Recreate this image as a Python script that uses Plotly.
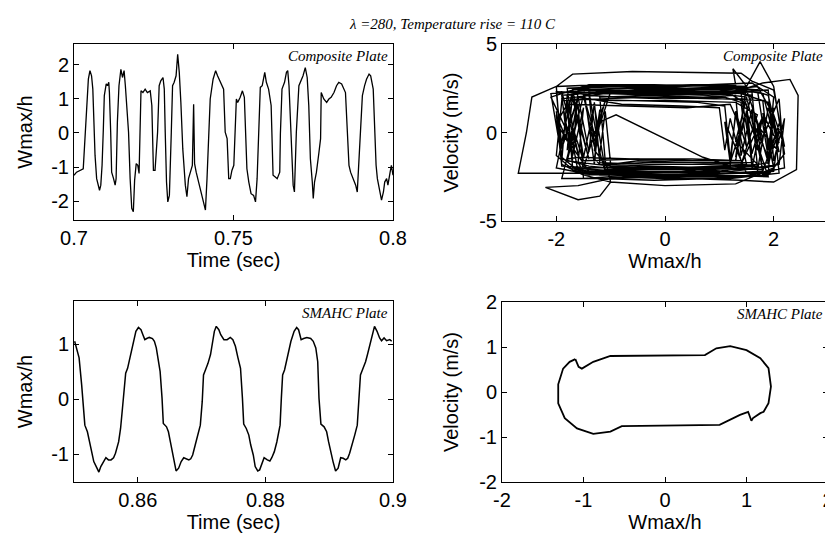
import plotly.graph_objects as go
from plotly.subplots import make_subplots

# ---- Composite plate: time history (0.7 - 0.8 s) ----
comp_t = [0.7000, 0.7008, 0.7029, 0.7035, 0.7040, 0.7045, 0.7050, 0.7055, 0.7059, 0.7063,
          0.7066, 0.7071, 0.7080, 0.7084, 0.7088, 0.7092, 0.7095, 0.7101, 0.7105, 0.7109,
          0.7111, 0.7115, 0.7118, 0.7124, 0.7129, 0.7132, 0.7136, 0.7141, 0.7147, 0.7152,
          0.7157, 0.7161, 0.7165, 0.7171, 0.7176, 0.7181, 0.7186, 0.7190, 0.7195, 0.7200,
          0.7204, 0.7207, 0.7210, 0.7216, 0.7223, 0.7230, 0.7239, 0.7244, 0.7247, 0.7249,
          0.7254, 0.7262, 0.7267, 0.7272, 0.7279, 0.7283, 0.7286, 0.7290, 0.7294, 0.7299,
          0.7305, 0.7309, 0.7314, 0.7320, 0.7325, 0.7330, 0.7335, 0.7341, 0.7349, 0.7354,
          0.7359, 0.7366, 0.7371, 0.7375, 0.7378, 0.7383, 0.7391, 0.7398, 0.7406, 0.7412,
          0.7417, 0.7422, 0.7427, 0.7436, 0.7444, 0.7450, 0.7459, 0.7469, 0.7474, 0.7480,
          0.7485, 0.7490, 0.7495, 0.7501, 0.7509, 0.7513, 0.7521, 0.7528, 0.7534, 0.7537,
          0.7542, 0.7548, 0.7555, 0.7563, 0.7569, 0.7574, 0.7579, 0.7584, 0.7590, 0.7595,
          0.7598, 0.7603, 0.7610, 0.7618, 0.7621, 0.7624, 0.7631, 0.7637, 0.7645, 0.7647,
          0.7652, 0.7660, 0.7666, 0.7670, 0.7674, 0.7679, 0.7683, 0.7687, 0.7691, 0.7697,
          0.7705, 0.7710, 0.7718, 0.7725, 0.7731, 0.7736, 0.7741, 0.7747, 0.7750, 0.7754,
          0.7760, 0.7768, 0.7773, 0.7775, 0.7783, 0.7792, 0.7799, 0.7806, 0.7815, 0.7823,
          0.7830, 0.7839, 0.7846, 0.7851, 0.7857, 0.7862, 0.7867, 0.7875, 0.7883, 0.7888,
          0.7893, 0.7898, 0.7904, 0.7911, 0.7917, 0.7925, 0.7930, 0.7938, 0.7942, 0.7947,
          0.7951, 0.7959, 0.7964, 0.7970, 0.7974, 0.7980, 0.7984, 0.7991, 0.7995, 0.8000]
comp_w = [-1.24, -1.15, -1.05, 0.02, 0.99, 1.57, 1.82, 1.67, 1.28, 0.21,
          -0.66, -1.34, -1.68, -1.53, -0.95, 0.12, 1.09, 1.43, 1.38, 1.48,
          1.18, 0.02, -1.15, -1.34, -1.53, -1.34, 0.31, 1.38, 1.86, 1.62,
          1.82, 1.38, 0.80, 0.02, -1.34, -2.21, -2.31, -1.39, -0.90, -0.95,
          -1.19, 0.02, 1.23, 1.18, 1.28, 1.18, 1.23, 0.80, 0.02, -1.10,
          -1.10, 0.02, 1.38, 1.52, 1.62, 1.28, 0.02, -1.44, -2.02, -1.83,
          0.02, 1.38, 1.48, 1.67, 2.30, 1.77, 0.89, -0.47, -1.53, -1.87,
          -1.34, -1.15, -0.95, 0.84, -0.90, -1.15, -1.44, -1.68, -2.02, -2.26,
          -1.34, 0.02, 0.99, 1.57, 1.82, 1.67, 1.48, 1.28, 0.02, -0.17,
          -1.34, -1.34, -1.10, -0.95, 0.99, 0.89, 1.04, 1.23, 1.04, 0.02,
          -1.05, -1.44, -1.78, -1.83, -2.02, -1.34, 0.02, 1.33, 1.38, 1.67,
          1.77, 1.48, 1.28, 0.80, -0.08, -1.24, -1.29, -1.34, -1.15, -0.03,
          1.28, 1.48, 1.77, 1.82, 1.38, 0.02, -1.05, -1.53, -1.73, 0.02,
          1.38, 1.48, 1.67, 1.91, 1.62, 0.80, -0.76, -1.44, -1.92, -1.44,
          -1.15, -0.56, -0.17, 1.18, 0.99, 0.89, 0.99, 1.04, 1.18, 1.38,
          1.48, 1.43, 1.28, 1.18, 0.02, -0.95, -1.15, -1.34, -1.53, -1.73,
          -0.95, 0.02, 1.09, 1.38, 1.57, 1.72, 1.67, 1.28, 0.02, -0.95,
          -1.34, -1.73, -1.97, -1.73, -1.44, -1.34, -1.53, -1.15, -0.95, -1.24]

# ---- SMAHC plate: time history (0.85 - 0.9 s) ----
smahc_t = [0.8501, 0.8504, 0.8508, 0.8512, 0.8515, 0.8517, 0.8521, 0.8524, 0.8528, 0.8531,
           0.8536, 0.8539, 0.8542, 0.8546, 0.8550, 0.8554, 0.8558, 0.8562, 0.8565, 0.8570,
           0.8573, 0.8576, 0.8579, 0.8581, 0.8584, 0.8588, 0.8591, 0.8594, 0.8597, 0.8601,
           0.8605, 0.8608, 0.8611, 0.8614, 0.8618, 0.8623, 0.8626, 0.8629, 0.8632, 0.8635,
           0.8638, 0.8640, 0.8645, 0.8648, 0.8651, 0.8654, 0.8657, 0.8660, 0.8664, 0.8668,
           0.8672, 0.8676, 0.8680, 0.8683, 0.8686, 0.8690, 0.8694, 0.8698, 0.8701, 0.8703,
           0.8706, 0.8710, 0.8714, 0.8717, 0.8720, 0.8723, 0.8727, 0.8730, 0.8735, 0.8740,
           0.8745, 0.8749, 0.8753, 0.8757, 0.8761, 0.8764, 0.8766, 0.8770, 0.8774, 0.8777,
           0.8781, 0.8784, 0.8788, 0.8791, 0.8795, 0.8798, 0.8803, 0.8807, 0.8810, 0.8814,
           0.8818, 0.8823, 0.8825, 0.8827, 0.8830, 0.8834, 0.8837, 0.8840, 0.8845, 0.8849,
           0.8852, 0.8856, 0.8860, 0.8865, 0.8871, 0.8875, 0.8879, 0.8882, 0.8884, 0.8887,
           0.8892, 0.8896, 0.8899, 0.8902, 0.8906, 0.8910, 0.8914, 0.8918, 0.8922, 0.8926,
           0.8929, 0.8932, 0.8936, 0.8940, 0.8944, 0.8947, 0.8949, 0.8952, 0.8957, 0.8960,
           0.8964, 0.8968, 0.8971, 0.8975, 0.8979, 0.8982, 0.8986, 0.8990, 0.8995, 0.8998]
smahc_w = [1.05, 0.93, 0.75, 0.26, -0.16, -0.47, -0.59, -0.77, -0.95, -1.13,
           -1.25, -1.32, -1.22, -1.13, -1.06, -1.10, -1.10, -1.06, -0.98, -0.77,
           -0.53, -0.16, 0.26, 0.47, 0.56, 0.75, 0.93, 1.08, 1.23, 1.30,
           1.26, 1.17, 1.08, 1.10, 1.12, 1.10, 1.05, 0.93, 0.75, 0.50,
           0.02, -0.44, -0.50, -0.59, -0.77, -0.95, -1.13, -1.30, -1.25, -1.13,
           -1.06, -1.08, -1.10, -1.08, -1.01, -0.83, -0.65, -0.47, -0.04, 0.44,
           0.53, 0.65, 0.81, 0.99, 1.23, 1.32, 1.26, 1.17, 1.08, 1.08,
           1.12, 1.08, 0.96, 0.75, 0.56, 0.02, -0.45, -0.53, -0.65, -0.83,
           -1.01, -1.22, -1.30, -1.28, -1.13, -1.06, -1.10, -1.12, -1.06, -0.95,
           -0.77, -0.47, 0.02, 0.44, 0.53, 0.72, 0.87, 1.05, 1.23, 1.30,
           1.26, 1.08, 1.10, 1.12, 1.10, 1.05, 0.93, 0.68, 0.02, -0.45,
           -0.50, -0.59, -0.77, -0.95, -1.13, -1.30, -1.25, -1.06, -1.07, -1.10,
           -1.07, -0.98, -0.83, -0.65, -0.47, 0.02, 0.44, 0.53, 0.68, 0.81,
           0.99, 1.17, 1.32, 1.23, 1.11, 1.06, 1.11, 1.06, 1.08, 1.05]

# ---- Composite plate: phase portrait (Wmax/h vs velocity), one loop per line ----
comp_phase_w = [
    -1.9, -1.8, -1.0, 0.2, 1.2, 1.5, 1.6, 1.8, 2.0, 1.2, 0.0, -1.1, -1.3, -1.5,
    -1.7, -0.8, 0.4, 1.4, 1.9, 2.1, 1.9, 1.7, 0.6, -0.6, -1.5, -1.9,
    -2.0, -1.9, -1.6, -0.6, 0.6, 1.1, 1.2, 1.3, 1.5, 0.5, -0.5, -1.0, -1.1,
    -1.2, -1.4, -0.4, 0.8, 1.6, 1.7, 2.1, 2.2, 1.4, 0.2, -0.9, -1.6,
    -1.7, -2.1, -1.4, -0.2, 1.0, 1.7, 1.9, 1.6, 1.8, 1.0, -0.2, -1.2,
    -1.3, -1.2, -0.9, 0.7, 1.2, 0.3, -0.8, -1.7,
    -1.8, -1.6, -1.9, -1.0, 0.0, 1.1, 1.4, 1.5, 1.3, 1.2, 0.4, -0.7, -1.4,
    -1.9, -2.0, -1.7, -0.6, 0.4, 1.4, 1.6, 2.0, 2.2, 2.0, 2.1, 1.2, 0.0, -1.0,
    -1.5, -1.6, -1.8, -1.7, -0.7, 0.5, 1.5, 1.8, 1.6, 1.9, 1.0, -0.2, -1.2,
    -1.8, -2.7, -2.55, -2.45, -2.0, -1.2, 0.0, 1.0, 1.6, 2.0, 1.9, 2.1, 1.8, 1.0, -0.1, -1.0, -1.6, -2.2, -1.6, -1.2, -1.0,
    -1.1, -1.2, -0.3, 0.7, 1.3, 1.4, 1.6, 1.7, 0.8, -0.3, -1.3,
    -1.9, -2.0, -1.8, -1.9, -1.2, -0.2, 0.8, 1.5, 1.8, 2.3, 2.45, 2.42, 2.0, 1.4, 0.4, -0.6, -1.5,
    -1.6, -1.5, -1.7, -1.6, -0.8, 0.2, 1.2, 1.8, 2.0, 1.8, 2.0, 1.3, 0.0, -1.0, -1.5,
    -1.9, -2.1, -1.3, -0.3, 0.7, 1.4, 1.6, 1.5, 1.6, 0.7, -0.3, -1.2,
    -1.3, -1.4, -1.6, -0.8, 0.3, 1.0, 1.1, 1.2, 1.4, 0.5, -0.5, -1.5,
    -1.7, -1.8, -1.0, 0.0, 1.1, 1.7, 2.0, 1.9, 2.1, 2.0, 1.3, 0.1, -0.9, -1.7,
    -2.0, -1.9, -1.2, -0.2, 0.9, 1.5, 1.3, 1.7, 1.0, 0.0, -1.0, -1.8,
    -1.5, -1.3, -1.4, -0.5, 0.6, 1.3, 1.9, 2.1, 1.7, 1.8, 0.9, -0.2, -1.2, -1.7,
    -1.8, -1.7, -1.9, -1.1, -0.1, 1.0, 1.5, 1.7, 1.5, 1.6, 0.7, -0.4, -1.1, -1.3,
    -1.2, -1.3, -1.5, -0.6, 0.5, 1.5, 1.3, 1.5, 1.9, 1.0, -0.1, -1.0,
    -1.4, -2.0, -1.8, -0.7, 0.4, 1.2, 1.4, 1.3, 0.5, -0.6, -1.6,
    -1.8, -1.6, -1.9, -2.0, -1.0, 0.1, 1.2, 1.9, 2.0, 2.2, 2.1, 1.4, 0.3, -0.8,
    -1.5, -1.1, -1.3, -1.0, 0.0, 1.0, 1.6, 1.2, 1.1, 1.5, 0.6, -0.5, -1.5,
    -2.0, -1.7, -0.9, 0.2, 1.3, 1.25, 1.5, 1.75, 2.0, 2.2, 1.9, 0.9, -0.2, -1.2, -1.9,
    -1.6, -1.4, -1.7, -0.9, 0.2, 1.3, 1.7, 1.4, 1.8, 1.6, 0.8, -0.3, -1.3,
    -1.1, -1.5, -0.8, 0.3, 1.1, 1.8, 1.9, 2.0, 1.9, 1.1, -0.1, -1.0, -1.7]
comp_phase_v = [
    -1.6, 2.1, 2.4, 2.3, 2.2, 1.6, -1.2, 0.9, -1.9, -2.2, -2.0, -2.1, 1.5, -1.4,
    2.5, 2.6, 2.5, 2.6, 2.1, -0.6, 1.4, -2.2, -2.4, -2.3, -2.4, -1.8,
    1.2, -0.9, 1.9, 1.8, 1.7, 1.5, -1.5, 1.0, -1.8, -1.7, -1.6, -1.8, 1.2,
    -1.2, 2.3, 2.2, 2.1, 2.3, -1.0, 1.9, -2.0, -2.5, -2.5, -2.4, -2.2,
    -0.6, 2.0, 2.7, 2.7, 2.6, 2.4, -1.4, 0.7, -2.1, -2.0, -1.9, -1.8,
    -1.5, 0.6, 1.0, -1.4, -1.9, -2.2, -2.2, -2.0,
    1.8, -1.2, 2.3, 2.0, 1.9, 2.0, 1.7, -0.8, 1.2, -1.9, -2.0, -2.1, -1.9,
    -1.5, 2.6, 3.3, 3.45, 3.4, 3.35, 2.9, 2.4, -0.8, 1.0, -2.3, -2.6, -2.6, -2.5,
    -2.6, 1.6, -1.0, 2.2, 2.3, 2.2, 2.4, -0.3, 1.5, -1.7, -2.2, -2.2, -2.3,
    -2.3, -2.3, 0.0, 2.0, 2.6, 2.7, 2.6, 2.7, 2.8, 2.0, -1.5, 0.5, -2.2, -2.3, -2.4, -2.6, -3.0, -3.1, -3.8, -3.6, -2.8,
    -1.6, 2.0, 2.1, 2.0, 2.1, -1.3, 1.3, -1.9, -2.0, -1.9, -2.0,
    -1.9, 1.0, -0.5, 2.1, 2.3, 2.3, 2.4, 2.5, 2.8, 3.0, 2.1, -2.1, -2.8, -2.7, -2.6, -2.5, -2.2,
    -1.7, 1.4, -1.3, 2.4, 2.5, 2.4, 2.5, 2.2, -0.2, 1.1, -2.0, -2.9, -3.0, -2.8, -2.4,
    -1.4, 2.2, 2.4, 2.3, 2.3, 2.2, -1.5, 1.0, -1.9, -1.8, -1.8, -1.7,
    1.7, -1.1, 2.0, 1.6, 1.5, 1.4, -1.0, 0.8, -1.6, -1.5, -1.5, -1.6,
    0.3, 2.5, 2.6, 2.5, 2.4, 2.6, 1.0, -1.8, 0.2, -2.2, -2.3, -2.2, -2.3, -2.1,
    -1.3, 1.8, 1.9, 2.0, 1.9, 1.9, -0.5, -1.8, -1.9, -2.0, -1.9, -1.6,
    2.1, -0.8, 2.2, 2.4, 2.3, 2.3, 1.7, -1.1, 0.4, -2.4, -2.5, -2.4, -2.4, -2.0,
    1.5, -1.6, 1.9, 2.2, 2.1, 2.2, 2.0, -0.5, 1.1, -1.7, -1.7, -1.7, -1.8, -1.0,
    1.3, -1.8, 2.6, 2.6, 2.7, 2.6, -1.4, 1.2, -2.5, -2.4, -2.5, -2.4,
    -2.2, 0.5, 1.6, 1.5, 1.4, 1.6, 0.2, -1.6, -1.6, -1.5, -1.4,
    -1.5, 2.0, -0.8, 2.3, 2.2, 2.2, 2.3, 2.4, -1.6, 0.8, -1.8, -2.1, -2.0, -2.0,
    -2.0, 1.8, -0.5, 2.3, 2.4, 2.4, 2.1, -1.7, 0.6, -2.3, -2.3, -2.2, -2.3,
    -2.0, 2.4, 2.7, 2.6, 2.7, 3.6, 2.6, 4.0, 2.6, -1.2, -2.4, -2.6, -2.7, -2.6, -2.6,
    1.0, -1.5, 1.9, 1.8, 1.8, 1.7, 1.0, -1.8, 0.9, -2.0, -2.1, -2.1, -2.2,
    -2.2, 2.1, 2.0, 2.0, 1.9, 1.8, -1.0, 1.4, -2.3, -2.3, -2.2, -2.2, -2.0]

# ---- SMAHC plate: phase portrait ----
smahc_phase_w = [-1.10, -1.06, -1.02, -0.88, -0.67, 0.49, 0.63, 0.80, 1.00, 1.17, 1.27, 1.30,
                 1.27, 1.21, 1.17, 1.08, 1.06, 1.02, 0.92, 0.67, -0.53, -0.67, -0.88, -1.08,
                 -1.23, -1.31, -1.31, -1.25, -1.17, -1.10]
smahc_phase_v = [0.73, 0.56, 0.52, 0.67, 0.80, 0.82, 0.97, 1.02, 0.93, 0.75, 0.53, 0.12,
                 -0.25, -0.44, -0.47, -0.58, -0.64, -0.44, -0.51, -0.73, -0.76, -0.88, -0.93, -0.81,
                 -0.58, -0.25, 0.17, 0.52, 0.67, 0.73]

# the page body has an 8px margin: the figure starts at (8, 8) in the window.
# Keep it a bit wider than the visible area so the last tick label is not dropped.
W, H = 833, 526


def px_x(p):
    return (p - 8) / W


def px_y(p):
    return 1 - (p - 8) / H


fig = make_subplots(rows=2, cols=2)

fig.add_trace(go.Scatter(x=comp_t, y=comp_w, mode='lines',
                         line=dict(color='black', width=1.3)), row=1, col=1)
fig.add_trace(go.Scatter(x=comp_phase_w, y=comp_phase_v, mode='lines',
                         line=dict(color='black', width=1.4)), row=1, col=2)
fig.add_trace(go.Scatter(x=smahc_t, y=smahc_w, mode='lines',
                         line=dict(color='black', width=1.5)), row=2, col=1)
fig.add_trace(go.Scatter(x=smahc_phase_w, y=smahc_phase_v, mode='lines',
                         line=dict(color='black', width=1.8)), row=2, col=2)

tick_font = dict(family='Liberation Sans, Arial', size=20, color='black')
ax_common = dict(showline=True, linecolor='black', linewidth=1, mirror='ticks', ticks='inside',
                 ticklen=5, tickcolor='black', showgrid=False, zeroline=False, tickfont=tick_font,
                 title_font=tick_font, automargin=False)

fig.update_xaxes(ax_common)
fig.update_yaxes(ax_common)

left_dom = [px_x(74), px_x(393)]
right_dom = [px_x(502), px_x(828)]

# top-left: composite time history
fig.update_xaxes(domain=left_dom, range=[0.7, 0.8], tickvals=[0.7, 0.75, 0.8],
                 ticktext=['0.7', '0.75', '0.8'], title_text='Time (sec)', title_standoff=2, row=1, col=1)
fig.update_yaxes(domain=[px_y(220), px_y(44)], range=[-2.55, 2.6], tickvals=[-2, -1, 0, 1, 2],
                 ticktext=['-2', '-1', '0', '1', '2'],
                 title_text='Wmax/h', title_standoff=13, row=1, col=1)
# top-right: composite phase plane
fig.update_xaxes(domain=right_dom, range=[-3, 3], tickvals=[-2, 0, 2],
                 ticktext=['-2', '0', '2'], title_text='Wmax/h', title_standoff=2, row=1, col=2)
fig.update_yaxes(domain=[px_y(221), px_y(44)], range=[-5, 5], tickvals=[-5, 0, 5],
                 ticktext=['-5', '0', '5'], title_text='Velocity (m/s)', title_standoff=15, row=1, col=2)
# bottom-left: SMAHC time history
fig.update_xaxes(domain=left_dom, range=[0.85, 0.9], tickvals=[0.86, 0.88, 0.9],
                 ticktext=['0.86', '0.88', '0.9'], title_text='Time (sec)', title_standoff=2, row=2, col=1)
fig.update_yaxes(domain=[px_y(482), px_y(301)], range=[-1.5, 1.78], tickvals=[-1, 0, 1],
                 ticktext=['-1', '0', '1'], title_text='Wmax/h', title_standoff=13, row=2, col=1)
# bottom-right: SMAHC phase plane
fig.update_xaxes(domain=right_dom, range=[-2, 2], tickvals=[-2, -1, 0, 1, 2],
                 ticktext=['-2', '-1', '0', '1', '2'], title_text='Wmax/h', title_standoff=2, row=2, col=2)
fig.update_yaxes(domain=[px_y(482), px_y(302)], range=[-2, 2], tickvals=[-2, -1, 0, 1, 2],
                 ticktext=['-2', '-1', '0', '1', '2'], title_text='Velocity (m/s)', title_standoff=15,
                 row=2, col=2)

label_font = dict(family='Liberation Serif, Times New Roman', size=15, color='black')
notes = [('x domain', 'y domain', 'Composite Plate'),
         ('x2 domain', 'y2 domain', 'Composite Plate'),
         ('x3 domain', 'y3 domain', 'SMAHC Plate'),
         ('x4 domain', 'y4 domain', 'SMAHC Plate')]
for xr, yr, txt in notes:
    fig.add_annotation(x=0.99, y=0.99, xref=xr, yref=yr, xanchor='right', yanchor='top',
                       text='<i>' + txt + '</i>', showarrow=False, font=label_font)

fig.add_annotation(x=px_x(452), y=px_y(14), xref='paper', yref='paper', showarrow=False,
                   text='<i>λ =280, Temperature rise = 110 C</i>',
                   font=dict(family='Liberation Serif, Times New Roman', size=15, color='black'))

fig.update_layout(width=W, height=H, margin=dict(l=0, r=0, t=0, b=0),
                  paper_bgcolor='white', plot_bgcolor='white', showlegend=False)

fig.write_html("out.html")
